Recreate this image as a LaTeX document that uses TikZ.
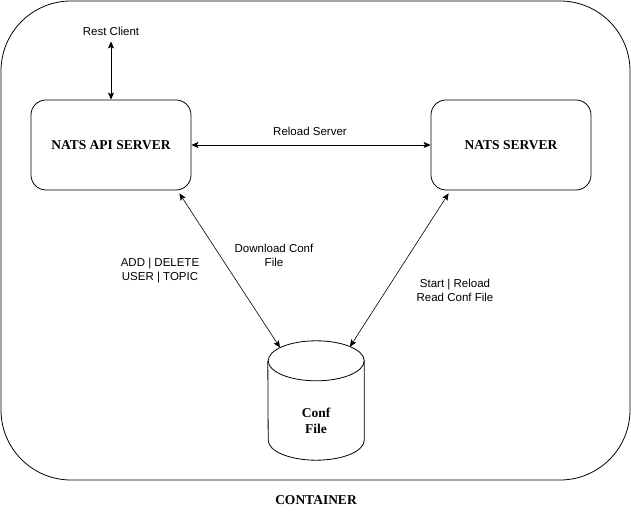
\documentclass[tikz,border=0pt]{standalone}
\usepackage{fontspec}
\setmainfont{Liberation Serif}
\newfontfamily\labelfont{Liberation Sans}
\usepackage{tikz}
\usetikzlibrary{arrows.meta}
\usetikzlibrary{calc}
\usetikzlibrary{positioning}

\begin{document}
\begin{tikzpicture}[
  x=1pt, y=1pt,
  > = {Stealth[length=7pt,width=6pt,inset=1.5pt]},
  box/.style = {draw, line width=0.8pt, rounded corners=15pt, minimum width=160pt, minimum height=90pt, font=\fontsize{13.5}{15}\selectfont\bfseries},
  lbl/.style = {font=\labelfont\fontsize{11.5}{13.5}\selectfont, align=center, inner sep=0pt},
  cylbox/.style = {minimum width=96pt, minimum height=119pt, inner sep=0pt},
  link/.style = {<->, line width=0.8pt},
  thinlink/.style = {<->, line width=0.6pt}
  ]
	\useasboundingbox (0,0) rectangle (631,516);
	\draw[rounded corners=70pt, line width=0.8pt] (1,36) rectangle (630,515);

	\coordinate (@api) at (111,371);
	\coordinate (@nats) at (511,371);
	\coordinate (@conf) at (316,115.5);

	\node[box] (api) at (@api) {NATS API SERVER};
	\node[box] (nats) at (@nats) {NATS SERVER};
	\node[lbl] (rest) at (111,485) {Rest Client};
	\node[cylbox] (conf) at (@conf) {};
	\node[font=\fontsize{13.5}{16}\selectfont\bfseries, align=center, inner sep=0pt] (conftext) at ([yshift=-20pt]conf.center) {Conf\\File};

	\draw[line width=0.8pt] ([yshift=-20pt]conf.north east) arc[start angle=0, end angle=360, x radius=48pt, y radius=20pt];
	\draw[line width=0.8pt] ([yshift=-20pt]conf.north east) -- ([yshift=20pt]conf.south east)
		arc[start angle=0, end angle=-180, x radius=48pt, y radius=20pt] -- ([yshift=-20pt]conf.north west);

	\coordinate (conf-l) at ($([yshift=-20pt]conf.north)+(-36,13.2)$);
	\coordinate (conf-r) at ($([yshift=-20pt]conf.north)+(34,14.1)$);

	\draw[link] ([yshift=-6pt]rest.south) -- (api.north);
	\draw[link] (api) -- (nats) node[lbl, midway, above=9pt, xshift=-1pt] (reload) {Reload Server};
	\draw[thinlink] ([shift={(-12pt,-3pt)}]api.south east) -- (conf-l);
	\draw[thinlink] ([shift={(18pt,-3pt)}]nats.south west) -- (conf-r);

	\node[lbl] (addlbl) at (160,245.5) {ADD | DELETE\\USER | TOPIC};
	\node[lbl] (downlbl) at (274,260.5) {Download Conf\\File};
	\node[lbl] (startlbl) at (455,225.5) {Start | Reload\\Read Conf File};

	\node[font=\fontsize{13.5}{15}\selectfont\bfseries] (container) at (316,16) {CONTAINER};

\end{tikzpicture}
\end{document}
